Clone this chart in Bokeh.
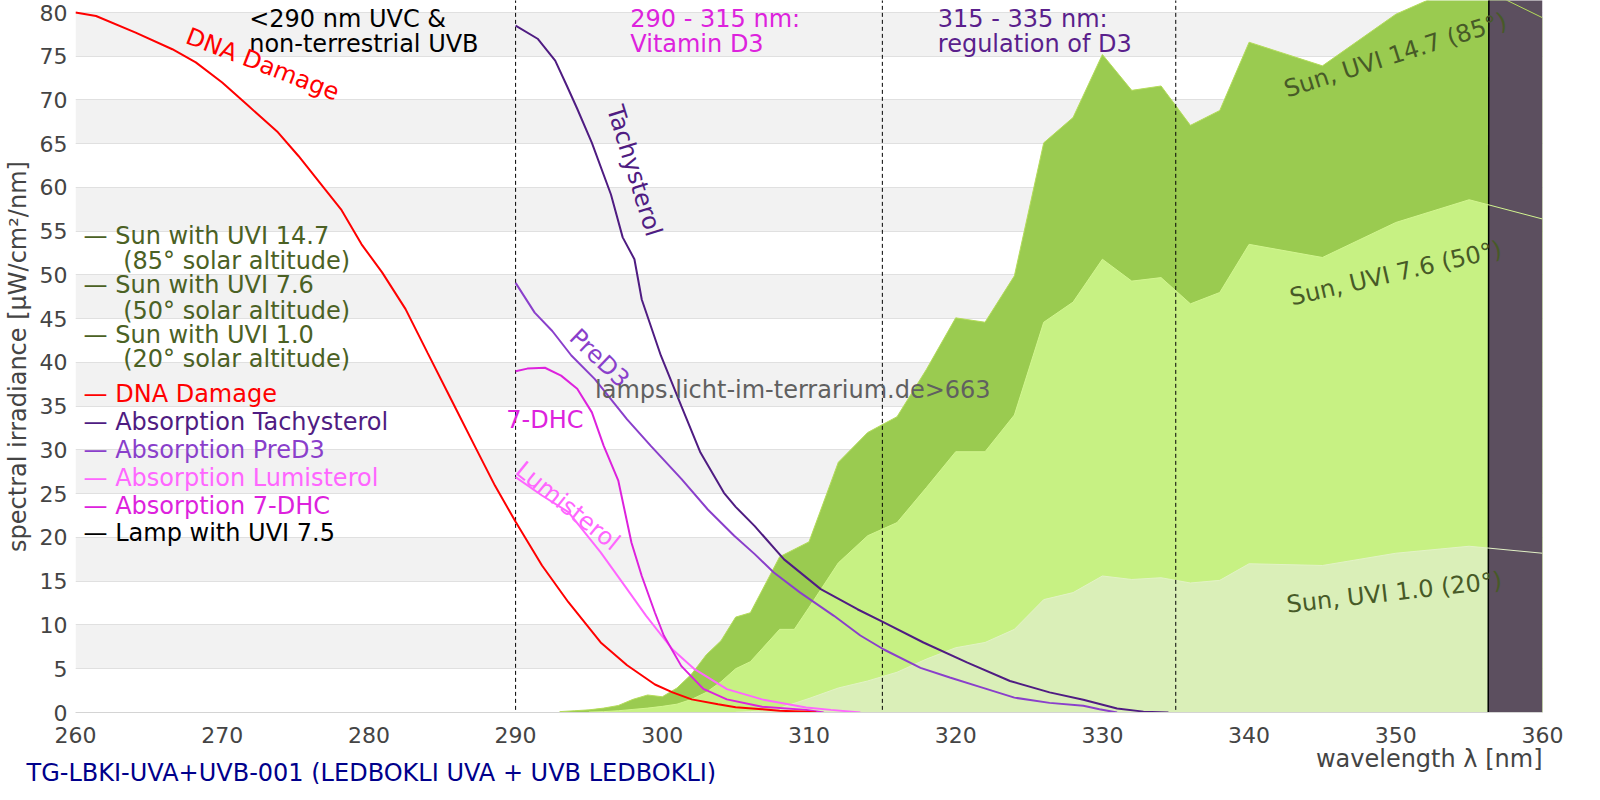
from bokeh.plotting import figure
from bokeh.models import Label, FixedTicker, Title
from bokeh.embed import file_html
from bokeh.resources import INLINE

# ---------------- data ----------------
x_ticks = [260, 270, 280, 290, 300, 310, 320, 330, 340, 350, 360]
y_ticks = [0, 5, 10, 15, 20, 25, 30, 35, 40, 45, 50, 55, 60, 65, 70, 75, 80]

# Sun spectra (spectral irradiance)
sun147_wl = [293, 294, 295, 296, 297, 298, 299, 300, 301, 302, 303, 304, 305, 306, 308, 310, 312, 314,
             316, 318, 320, 322, 324, 326, 328, 330, 332, 334, 336, 338, 340, 345, 350, 355, 360]
sun147_val = [0.1, 0.2, 0.3, 0.5, 0.8, 1.5, 2.0, 1.8, 2.8, 4.4, 6.6, 8.2, 10.9, 11.4, 17.8, 19.5, 28.6, 32.0,
              33.8, 39.2, 45.1, 44.6, 49.9, 65.1, 68.0, 75.2, 71.1, 71.6, 67.1, 68.8, 76.6, 73.9, 79.8, 83.5, 79.4]

sun76_wl = [295, 296, 297, 298, 299, 300, 301, 302, 303, 304, 305, 306, 308, 309, 310, 312, 314, 316,
            318, 320, 322, 324, 326, 328, 330, 332, 334, 336, 338, 340, 345, 350, 355, 360]
sun76_val = [0.05, 0.1, 0.2, 0.35, 0.5, 0.7, 0.95, 1.5, 2.3, 3.5, 5.0, 5.8, 9.5, 9.5, 12.0, 17.1, 20.2, 21.7,
             25.7, 29.8, 29.8, 34.0, 44.6, 46.9, 51.8, 49.3, 49.7, 46.7, 48.0, 53.5, 52.0, 56.0, 58.6, 56.4]

sun10_wl = [305, 306, 307, 308, 310, 312, 314, 316, 318, 320, 322, 324, 326, 328, 330, 332, 334, 336,
            338, 340, 345, 350, 355, 360]
sun10_val = [0.02, 0.1, 0.2, 0.5, 1.6, 2.8, 3.6, 4.6, 6.1, 7.4, 8.0, 9.5, 12.9, 13.7, 15.6, 15.2, 15.4, 14.8,
             15.1, 17.0, 16.8, 18.2, 19.0, 18.2]

# Lamp (goes off scale above 356 nm)
lamp_wl = [356.3, 356.35, 358.0, 360.0]
lamp_val = [0.0, 95.0, 120.0, 140.0]

# Action / absorption spectra (scaled)
dna_wl = [260, 261.4, 264.1, 266.6, 268.2, 270.0, 271.8, 273.8, 275.2, 277.0, 278.1, 279.5, 280.9, 282.5,
          284.0, 285.6, 287.2, 288.6, 290.0, 291.8, 293.6, 295.8, 297.6, 299.5, 300.7, 302.0, 303.8, 305.0,
          306.8, 308.0, 309.8, 310.5]
dna_val = [80.0, 79.6, 77.7, 75.8, 74.3, 72.0, 69.3, 66.3, 63.6, 59.8, 57.5, 53.5, 50.3, 46.1,
           41.1, 35.8, 30.5, 25.9, 21.8, 16.8, 12.6, 8.0, 5.4, 3.2, 2.3, 1.5, 0.95, 0.6,
           0.38, 0.2, 0.08, 0.0]

tachy_wl = [290.0, 291.5, 292.7, 293.5, 294.2, 295.2, 296.5, 297.3, 298.1, 298.6, 299.9, 301.3, 302.6, 304.2,
            305.0, 306.3, 308.3, 310.8, 313.3, 315.1, 317.8, 320.8, 323.7, 326.4, 328.7, 331.0, 332.8, 334.5]
tachy_val = [78.5, 77.0, 74.5, 71.6, 69.0, 65.1, 59.2, 54.3, 51.8, 47.2, 40.8, 35.0, 29.7, 25.1,
             23.5, 21.3, 17.5, 14.1, 11.8, 10.3, 8.0, 5.7, 3.6, 2.3, 1.45, 0.46, 0.1, 0.0]

pred3_wl = [290.0, 291.3, 292.5, 293.8, 295.4, 297.6, 299.2, 301.3, 303.1, 304.9, 306.3, 307.6, 309.4, 311.7,
            313.5, 315.1, 317.6, 319.6, 321.7, 324.0, 326.4, 328.7, 329.8, 331.0]
pred3_val = [49.1, 45.7, 43.6, 40.8, 38.1, 33.5, 30.5, 26.7, 23.2, 20.2, 18.1, 16.0, 13.7, 11.05,
             8.8, 7.2, 5.1, 4.0, 2.9, 1.7, 1.1, 0.76, 0.38, 0.0]

lumi_wl = [290.0, 291.8, 293.6, 295.8, 297.6, 298.9, 300.7, 302.2, 304.4, 306.8, 309.8, 311.5, 313.5]
lumi_val = [26.9, 24.8, 22.9, 18.3, 14.1, 11.05, 7.2, 4.95, 2.67, 1.5, 0.57, 0.3, 0.0]

dhc_wl = [290.0, 290.8, 292.0, 293.1, 294.2, 295.2, 296.0, 297.0, 297.9, 298.6, 299.5, 300.1, 301.3, 302.8,
          304.4, 306.8, 309.8, 311.0]
dhc_val = [39.0, 39.3, 39.4, 38.5, 37.0, 34.3, 30.5, 26.5, 19.4, 15.6, 11.4, 8.8, 5.3, 2.7,
           1.5, 0.65, 0.3, 0.0]

# Band boundaries (nm)
boundaries = [290, 315, 335]

# Legend entries
legend_texts = ["— Sun with UVI 14.7", "(85° solar altitude)", "— Sun with UVI 7.6", "(50° solar altitude)",
                "— Sun with UVI 1.0", "(20° solar altitude)", "— DNA Damage", "— Absorption Tachysterol",
                "— Absorption PreD3", "— Absorption Lumisterol", "— Absorption 7-DHC", "— Lamp with UVI 7.5"]
legend_x = [260.55, 263.25, 260.55, 263.25, 260.55, 263.25, 260.55, 260.55, 260.55, 260.55, 260.55, 260.55]
legend_y = [54.48, 51.62, 48.83, 45.91, 43.12, 40.38, 36.38, 33.22, 30.02, 26.82, 23.62, 20.46]

# ---------------- colors ----------------
C_SUN147 = "#9acb50"
C_SUN76 = "#c7f183"
C_SUN10 = "#daefb8"
C_LAMP = "#5c4f5f"
C_DNA = "#ff0000"
C_TACHY = "#4f1c82"
C_PRED3 = "#8a3fcb"
C_LUMI = "#ff66ff"
C_DHC = "#dd22dd"
C_SUNTXT = "#4b6124"
C_SUNLBL = "#475a27"
legend_colors = [C_SUNTXT, C_SUNTXT, C_SUNTXT, C_SUNTXT, C_SUNTXT, C_SUNTXT, C_DNA, C_TACHY, C_PRED3,
                 C_LUMI, C_DHC, "#000000"]

FONT = "DejaVu Sans"

p = figure(width=1584, height=784, x_range=(260, 360), y_range=(0, 81.37),
           output_backend="svg", toolbar_location=None,
           min_border_left=72, min_border_right=42, min_border_top=0, min_border_bottom=72)
p.outline_line_color = None
p.background_fill_color = "white"
p.border_fill_color = "white"

p.xaxis.ticker = FixedTicker(ticks=x_ticks)
p.yaxis.ticker = FixedTicker(ticks=y_ticks)
p.ygrid.ticker = FixedTicker(ticks=y_ticks)
p.xgrid.grid_line_color = None
p.ygrid.grid_line_color = "#e0e0e0"
p.ygrid.grid_line_width = 1
p.ygrid.band_fill_color = "#f2f2f2"
p.ygrid.band_fill_alpha = 1.0

for ax in (p.xaxis, p.yaxis):
    ax.major_tick_line_color = None
    ax.minor_tick_line_color = None
    ax.major_tick_out = 0
    ax.major_tick_in = 0
    ax.major_label_text_font = FONT
    ax.major_label_text_font_size = "22px"
    ax.major_label_text_color = "#444444"
p.yaxis.axis_line_color = None
p.xaxis.axis_line_color = "#d4d4d4"
p.xaxis.major_label_standoff = 14
p.yaxis.major_label_standoff = 8
p.yaxis.axis_label = "spectral irradiance [µW/cm²/nm]"
p.yaxis.axis_label_text_font = FONT
p.yaxis.axis_label_text_font_style = "normal"
p.yaxis.axis_label_text_font_size = "24px"
p.yaxis.axis_label_text_color = "#444444"
p.yaxis.axis_label_standoff = 5

# x-axis label (right aligned, under the tick labels)
xlab = Title(text="wavelength λ [nm]", align="right", offset=0,
             text_font=FONT, text_font_size="24px", text_font_style="normal", text_color="#444444",
             vertical_align="bottom")
# bottom caption, overlapping the axis-label row on the left
cap = Title(text="TG-LBKI-UVA+UVB-001 (LEDBOKLI UVA + UVB LEDBOKLI)", align="left", offset=-49,
            text_font=FONT, text_font_size="24px", text_font_style="normal", text_color="#00008b",
            vertical_align="bottom")
if "standoff" in cap.properties():
    xlab.standoff = -5
    cap.standoff = -27
p.add_layout(xlab, "below")
p.add_layout(cap, "below")

# sun areas
p.varea(x=sun147_wl, y1=0, y2=sun147_val, fill_color=C_SUN147)
p.varea(x=sun76_wl, y1=0, y2=sun76_val, fill_color=C_SUN76)
p.varea(x=sun10_wl, y1=0, y2=sun10_val, fill_color=C_SUN10)

# lamp
p.varea(x=lamp_wl, y1=0, y2=lamp_val, fill_color=C_LAMP)
p.line(lamp_wl, lamp_val, line_color="black", line_width=1.5)

# sun outlines (visible over lamp)
p.line(sun147_wl, sun147_val, line_color="#b4dc5a", line_width=1)
p.line(sun76_wl, sun76_val, line_color="#d2f590", line_width=1)
p.line(sun10_wl, sun10_val, line_color="#e2f2c6", line_width=1)

# band boundaries
p.segment(x0=boundaries, y0=[0.3] * len(boundaries), x1=boundaries, y1=[95] * len(boundaries),
          line_color="black", line_width=1, line_dash="4 3")

# absorption / action curves
p.line(tachy_wl, tachy_val, line_color=C_TACHY, line_width=2)
p.line(pred3_wl, pred3_val, line_color=C_PRED3, line_width=2)
p.line(lumi_wl, lumi_val, line_color=C_LUMI, line_width=2)
p.line(dhc_wl, dhc_val, line_color=C_DHC, line_width=2)
p.line(dna_wl, dna_val, line_color=C_DNA, line_width=2)


def lab(x, y, text, color, size="24px", angle=0.0, align="left", baseline="alphabetic"):
    p.add_layout(Label(x=x, y=y, text=text, text_color=color, text_font=FONT,
                       text_font_size=size, angle=angle, text_align=align, text_baseline=baseline))


# region annotations
lab(271.84, 79.23, "<290 nm UVC &", "#000000")
lab(271.84, 76.38, "non-terrestrial UVB", "#000000")
lab(297.82, 79.23, "290 - 315 nm:", C_DHC)
lab(297.82, 76.38, "Vitamin D3", C_DHC)
lab(318.78, 79.23, "315 - 335 nm:", "#5a1f8c")
lab(318.78, 76.38, "regulation of D3", "#5a1f8c")

# curve labels
lab(272.75, 74.09, "DNA Damage", C_DNA, angle=-0.367, align="center", baseline="middle")
lab(298.1, 61.9, "Tachysterol", C_TACHY, angle=-1.27, align="center", baseline="middle")
lab(295.71, 40.5, "PreD3", C_PRED3, angle=-0.766, align="center", baseline="middle")
lab(292.0, 33.45, "7-DHC", C_DHC, align="center")
lab(293.56, 23.6, "Lumisterol", C_LUMI, angle=-0.68, align="center", baseline="middle")
lab(349.97, 75.14, "Sun, UVI 14.7 (85°)", C_SUNLBL, angle=0.305, align="center", baseline="middle")
lab(350.0, 50.2, "Sun, UVI 7.6 (50°)", C_SUNLBL, angle=0.227, align="center", baseline="middle")
lab(349.9, 13.71, "Sun, UVI 1.0 (20°)", C_SUNLBL, angle=0.113, align="center", baseline="middle")

# watermark
lab(308.9, 36.88, "lamps.licht-im-terrarium.de>663", "#606060", align="center", baseline="middle")

# legend
for t, lx, ly, c in zip(legend_texts, legend_x, legend_y, legend_colors):
    lab(lx, ly, t, c)

open("out.html", "w").write(file_html(p, INLINE))
